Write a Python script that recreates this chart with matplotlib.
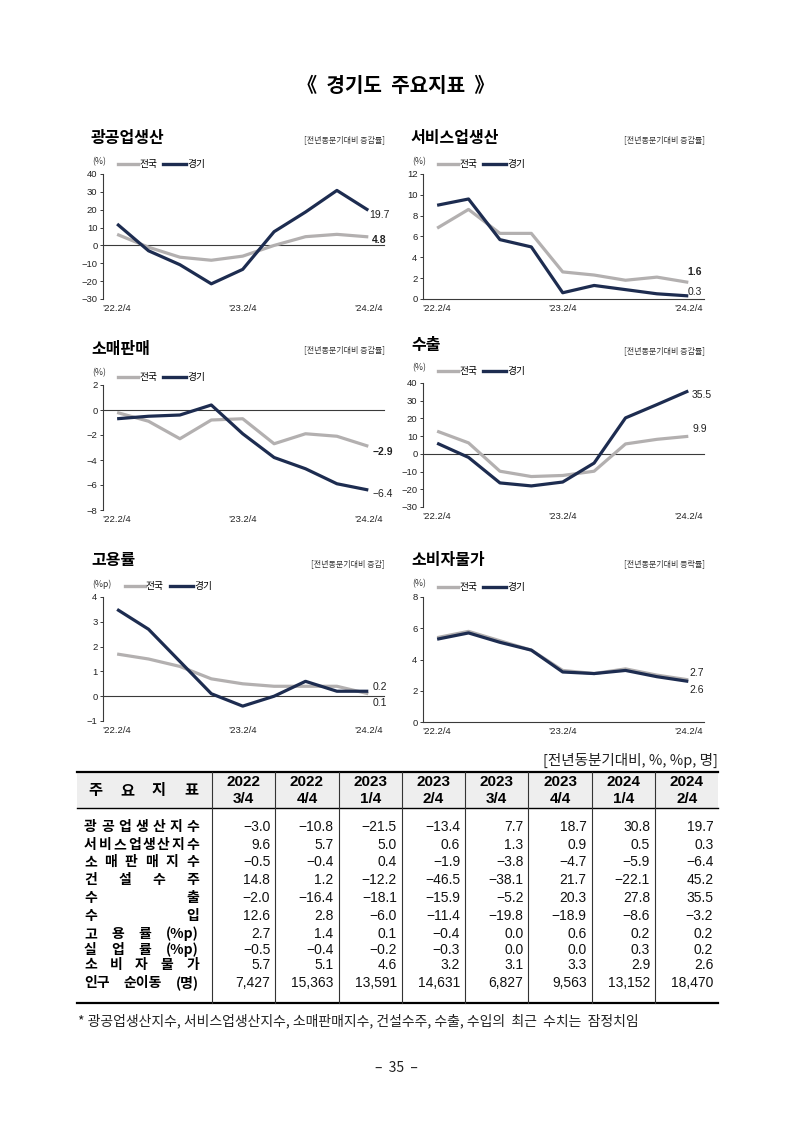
import numpy as np
import matplotlib
matplotlib.use('Agg')
import matplotlib.pyplot as plt
from matplotlib.patches import Rectangle
from matplotlib.lines import Line2D
from matplotlib import font_manager

plt.rcParams['font.family'] = ['Liberation Sans', 'Noto Sans CJK KR', 'DejaVu Sans']
plt.rcParams['axes.unicode_minus'] = True
KR = ['Noto Sans CJK KR', 'DejaVu Sans']
names = {f.name for f in font_manager.fontManager.ttflist}
NARROW = 'Liberation Sans Narrow' if 'Liberation Sans Narrow' in names else 'Liberation Sans'

# ---- chart data (quarterly, '22.2/4 .. '24.2/4) ----
tick_pos = [0, 4, 8]
tick_labels = ['\u201922.2/4', '\u201923.2/4', '\u201924.2/4']

mining_nat = [6.2, -1.0, -6.6, -8.3, -6.0, 0.0, 4.9, 6.2, 4.8]
mining_gg = [12.0, -3.0, -10.8, -21.5, -13.4, 7.7, 18.7, 30.8, 19.7]
service_nat = [6.8, 8.6, 6.3, 6.3, 2.6, 2.3, 1.8, 2.1, 1.6]
service_gg = [9.0, 9.6, 5.7, 5.0, 0.6, 1.3, 0.9, 0.5, 0.3]
retail_nat = [-0.2, -0.9, -2.3, -0.8, -0.7, -2.7, -1.9, -2.1, -2.9]
retail_gg = [-0.7, -0.5, -0.4, 0.4, -1.9, -3.8, -4.7, -5.9, -6.4]
export_nat = [12.8, 6.2, -9.8, -12.8, -12.2, -9.8, 5.6, 8.2, 9.9]
export_gg = [6.0, -2.0, -16.4, -18.1, -15.9, -5.2, 20.3, 27.8, 35.5]
emp_nat = [1.7, 1.5, 1.2, 0.7, 0.5, 0.4, 0.4, 0.4, 0.1]
emp_gg = [3.5, 2.7, 1.4, 0.1, -0.4, 0.0, 0.6, 0.2, 0.2]
cpi_nat = [5.4, 5.8, 5.2, 4.6, 3.3, 3.1, 3.4, 3.0, 2.7]
cpi_gg = [5.3, 5.7, 5.1, 4.6, 3.2, 3.1, 3.3, 2.9, 2.6]

# ---- table data ----
col_heads = ['2022\n3/4', '2022\n4/4', '2023\n1/4', '2023\n2/4',
             '2023\n3/4', '2023\n4/4', '2024\n1/4', '2024\n2/4']
row_labels = ['광 공 업 생 산 지 수', '서 비 스 업 생 산 지 수', '소 매 판 매 지 수',
              '건 설 수 주', '수 출', '수 입', '고 용 률 (%p)', '실 업 률 (%p)',
              '소 비 자 물 가', '인구 순이동 (명)']
mining_idx = [-3.0, -10.8, -21.5, -13.4, 7.7, 18.7, 30.8, 19.7]
service_idx = [9.6, 5.7, 5.0, 0.6, 1.3, 0.9, 0.5, 0.3]
retail_idx = [-0.5, -0.4, 0.4, -1.9, -3.8, -4.7, -5.9, -6.4]
construction = [14.8, 1.2, -12.2, -46.5, -38.1, 21.7, -22.1, 45.2]
exports = [-2.0, -16.4, -18.1, -15.9, -5.2, 20.3, 27.8, 35.5]
imports = [12.6, 2.8, -6.0, -11.4, -19.8, -18.9, -8.6, -3.2]
employment = [2.7, 1.4, 0.1, -0.4, 0.0, 0.6, 0.2, 0.2]
unemployment = [-0.5, -0.4, -0.2, -0.3, 0.0, 0.0, 0.3, 0.2]
cpi = [5.7, 5.1, 4.6, 3.2, 3.1, 3.3, 2.9, 2.6]
migration = [7427, 15363, 13591, 14631, 6827, 9563, 13152, 18470]

NAVY = '#1d2c50'
GRAY = '#b3b0b0'
W, H = 793, 1121

fig = plt.figure(figsize=(W / 100, H / 100), dpi=100)
bg = fig.add_axes([0, 0, 1, 1])
bg.set_xlim(0, W)
bg.set_ylim(H, 0)
bg.axis('off')


def fmt(v):
    return f'{v:.1f}'.replace('-', '\u2212')


def panel(x0, ytop, ybot, title, title_y, sub, sub_y, unit, unit_y, leg_y,
          nat, gg, yticks, nat_off, gg_off, nat_bold=True):
    ax = fig.add_axes([x0 / W, 1 - ybot / H, 281 / W, (ybot - ytop) / H])
    x = np.arange(len(nat))
    ax.plot(x, nat, color=GRAY, lw=2.3, solid_joinstyle='round', solid_capstyle='butt', zorder=3)
    ax.plot(x, gg, color=NAVY, lw=2.3, solid_joinstyle='round', solid_capstyle='butt', zorder=4)
    ax.axhline(0, color='#3a3a3a', lw=0.8, zorder=2, clip_on=False)
    ax.set_xlim(-0.45, 8.5)
    ax.set_ylim(yticks[0], yticks[-1])
    ax.set_yticks(yticks)
    ax.set_xticks(tick_pos)
    ax.set_xticklabels(tick_labels)
    ax.tick_params(axis='x', length=0, pad=3.5, labelsize=6.8, colors='#222222')
    ax.tick_params(axis='y', length=2.5, width=0.7, pad=1.5, labelsize=6.8,
                   colors='#222222', color='#3a3a3a')
    for s in ['top', 'right', 'bottom']:
        ax.spines[s].set_visible(False)
    ax.spines['left'].set_linewidth(0.8)
    ax.spines['left'].set_color('#3a3a3a')
    ax.patch.set_visible(False)
    ax.annotate(fmt(nat[-1]), xy=(x[-1], nat[-1]), xytext=nat_off, textcoords='offset pixels',
                ha='left', va='center', fontsize=7.5, color='#222222',
                fontweight='bold' if nat_bold else 'normal')
    ax.annotate(fmt(gg[-1]), xy=(x[-1], gg[-1]), xytext=gg_off, textcoords='offset pixels',
                ha='left', va='center', fontsize=7.5, color='#222222')
    # titles and legend in page pixels
    bg.text(x0 - 12, title_y, title, family=KR, fontsize=11.5, fontweight='bold',
            ha='left', va='center')
    bg.text(x0 + 282, sub_y, sub, family=KR, fontsize=5.8, color='#333333',
            ha='right', va='center')
    bg.text(x0 - 11, unit_y, unit, family=KR, fontsize=6.3, color='#333333',
            ha='left', va='center')
    lx = x0 + 15 + (7 if unit == '(%p)' else 0)
    bg.add_line(Line2D([lx, lx + 20], [leg_y, leg_y], color=GRAY, lw=2.4))
    bg.text(lx + 21, leg_y, '전국', family=KR, fontsize=7, ha='left', va='center')
    bg.add_line(Line2D([lx + 45, lx + 68], [leg_y, leg_y], color=NAVY, lw=2.4))
    bg.text(lx + 69, leg_y, '경기', family=KR, fontsize=7, ha='left', va='center')
    return ax


sub1 = '[전년동분기대비 증감률]'
panel(103, 174, 299, '광공업생산', 138, sub1, 140, '(%)', 162, 164,
      mining_nat, mining_gg, list(range(-30, 41, 10)), (4, -3), (1, -5))
panel(423, 174, 299, '서비스업생산', 138, sub1, 140, '(%)', 162, 164,
      service_nat, service_gg, list(range(0, 13, 2)), (-1, 10), (-1, 4))
panel(103, 385, 510, '소매판매', 349, sub1, 350, '(%)', 373, 377,
      retail_nat, retail_gg, list(range(-8, 3, 2)), (4, -6), (4, -4))
panel(423, 383, 507, '수출', 345, sub1, 351, '(%)', 368, 371,
      export_nat, export_gg, list(range(-30, 41, 10)), (4, 7), (3, -4), nat_bold=False)
panel(103, 597, 721, '고용률', 560, '[전년동분기대비 증감]', 564, '(%p)', 584, 586,
      emp_nat, emp_gg, list(range(-1, 5, 1)), (4, -9), (4, 4), nat_bold=False)
panel(423, 597, 722, '소비자물가', 560, '[전년동분기대비 등락률]', 564, '(%)', 584, 587,
      cpi_nat, cpi_gg, list(range(0, 9, 2)), (1, 7), (1, -9), nat_bold=False)

# page title
bg.text(396, 85, '《  경기도  주요지표  》', family=KR, fontsize=14.5, fontweight='bold',
        ha='center', va='center')

# ---- table ----
renderer = fig.canvas.get_renderer()


def justify(s, xl, xr, y, **kw):
    toks = s.split(' ')
    objs = [bg.text(0, y, t, ha='left', va='center', **kw) for t in toks]
    widths = [o.get_window_extent(renderer).width for o in objs]
    gap = (xr - xl - sum(widths)) / max(len(toks) - 1, 1)
    xpos = xl
    for o, w in zip(objs, widths):
        o.set_x(xpos)
        xpos += w + gap


bg.text(718, 760, '[전년동분기대비, %, %p, 명]', family=KR, fontsize=10.5,
        ha='right', va='center', color='#222222')
edges = np.linspace(212, 718.3, 9)
top, hdr, bot = 772, 808, 1003
bg.add_patch(Rectangle((77, top), 641, hdr - top, facecolor='#eeeeee', edgecolor='none'))
bg.add_line(Line2D([77, 718], [top, top], color='black', lw=1.6))
bg.add_line(Line2D([77, 718], [hdr, hdr], color='black', lw=1.0))
bg.add_line(Line2D([77, 718], [bot, bot], color='black', lw=1.6))
for e in edges[:-1]:
    bg.add_line(Line2D([e, e], [top, bot], color='#333333', lw=0.8))

justify('주 요 지 표', 88, 198, 790, family=KR, fontsize=11, fontweight='bold')
for i, head in enumerate(col_heads):
    cx = (edges[i] + edges[i + 1]) / 2
    yr, q = head.split('\n')
    bg.text(cx, 782, yr, family=NARROW, fontsize=11, fontweight='bold', ha='center', va='center')
    bg.text(cx, 799, q, family=NARROW, fontsize=11, fontweight='bold', ha='center', va='center')

table_rows = [mining_idx, service_idx, retail_idx, construction, exports, imports,
              employment, unemployment, cpi, migration]
row_y = [827, 845, 862, 880, 898, 916, 934, 950, 965, 983]
for r, (lab, vals) in enumerate(zip(row_labels, table_rows)):
    y = row_y[r]
    justify(lab, 84, 199, y, family=KR, fontsize=10, fontweight='bold')
    for i, v in enumerate(vals):
        txt = f'{v:,}' if isinstance(v, int) else fmt(v)
        bg.text(edges[i + 1] - 5, y, txt, fontsize=10, ha='right', va='center', color='#111111')

bg.text(78, 1021, '* 광공업생산지수, 서비스업생산지수, 소매판매지수, 건설수주, 수출, 수입의  최근  수치는  잠정치임',
        family=KR, fontsize=10, ha='left', va='center', color='#222222')
bg.text(396, 1068, '\u2013  35  \u2013', family=KR, fontsize=10, ha='center', va='center',
        color='#222222')

fig.savefig('out.png', dpi=100)
